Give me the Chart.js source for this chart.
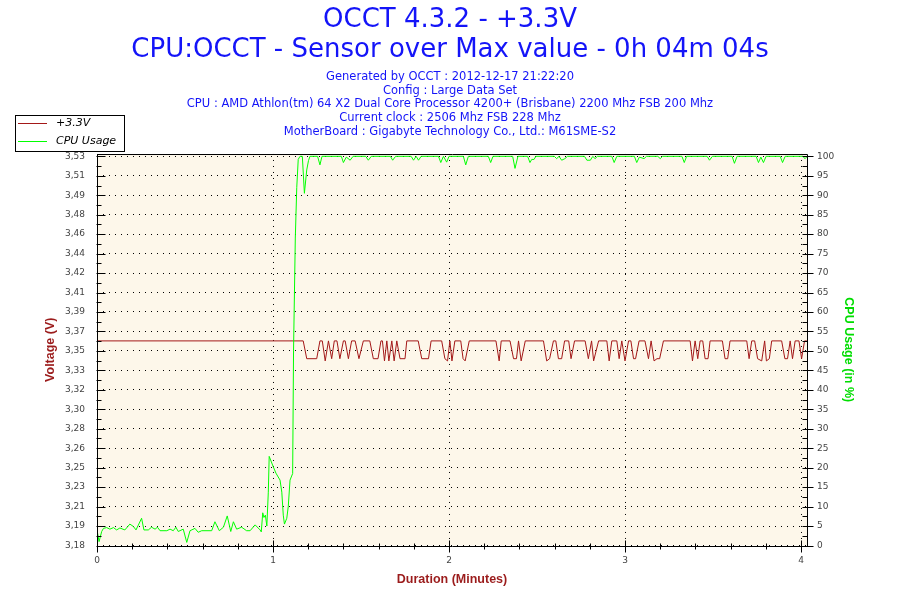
<!DOCTYPE html>
<html>
<head>
<meta charset="utf-8">
<script src="https://cdn.jsdelivr.net/npm/chart.js@4.4.0/dist/chart.umd.min.js"></script>
<style>
  html, body { margin: 0; padding: 0; background: #fff; }
  #wrap { width: 900px; height: 600px; }
</style>
</head>
<body>
<div id="wrap"><canvas id="chart" width="900" height="600"></canvas></div>
<script>
// text
const titleLines = ['OCCT 4.3.2 - +3.3V', 'CPU:OCCT - Sensor over Max value - 0h 04m 04s'];
const infoLines = [
  'Generated by OCCT : 2012-12-17 21:22:20',
  'Config : Large Data Set',
  'CPU : AMD Athlon(tm) 64 X2 Dual Core Processor 4200+ (Brisbane) 2200 Mhz FSB 200 Mhz',
  'Current clock : 2506 Mhz FSB 228 Mhz',
  'MotherBoard : Gigabyte Technology Co., Ltd.: M61SME-S2'
];
const seriesNames = ['+3.3V', 'CPU Usage'];

// +3.3V readings (time in seconds, value in volts)
const voltSeconds = [
  0, 70.3, 71.5, 74.9, 76.0, 76.8, 77.8, 78.9, 80.0, 80.9, 81.8, 82.8, 84.0, 84.6, 85.7, 86.8,
  88.0, 89.3, 90.8, 93.0, 94.2, 95.8, 96.8, 97.3, 98.0, 98.8, 99.5, 100.5, 101.3, 102.2, 103.3, 105.0,
  105.6, 109.5, 110.7, 113.0, 113.9, 117.5, 118.6, 119.5, 120.3, 121.0, 122.0, 124.0, 124.8, 125.5, 126.9, 136.0,
  137.1, 137.8, 140.8, 142.0, 143.0, 143.7, 144.6, 146.0, 152.2, 153.3, 154.3, 155.6, 156.4, 157.3, 158.4, 159.4,
  160.8, 161.6, 162.8, 166.4, 167.5, 168.6, 169.3, 171.0, 173.8, 174.6, 175.5, 177.2, 178.0, 178.9, 180.0, 181.2,
  182.0, 182.9, 183.6, 184.8, 186.8, 188.0, 188.9, 189.9, 190.9, 191.8, 193.1, 202.2, 203.0, 203.9, 204.8, 205.6,
  206.5, 207.3, 208.3, 209.0, 213.2, 214.1, 215.0, 215.8, 221.5, 222.3, 223.2, 224.2, 225.2, 226.6, 227.6, 228.2,
  229.2, 230.0, 233.4, 234.5, 235.4, 236.3, 237.1, 238.0, 239.3, 240.2, 241.2, 242.0
];
const voltValues = [
  3.364, 3.364, 3.348, 3.348, 3.364, 3.364, 3.346, 3.364, 3.348, 3.364, 3.364, 3.348, 3.364, 3.364, 3.348, 3.364,
  3.364, 3.348, 3.364, 3.364, 3.348, 3.348, 3.364, 3.364, 3.346, 3.364, 3.346, 3.364, 3.346, 3.364, 3.348, 3.348,
  3.364, 3.364, 3.348, 3.348, 3.364, 3.364, 3.348, 3.346, 3.364, 3.346, 3.364, 3.364, 3.348, 3.346, 3.364, 3.364,
  3.346, 3.364, 3.364, 3.348, 3.348, 3.364, 3.346, 3.364, 3.364, 3.346, 3.348, 3.364, 3.364, 3.348, 3.348, 3.364,
  3.364, 3.348, 3.364, 3.364, 3.348, 3.364, 3.346, 3.364, 3.364, 3.346, 3.364, 3.364, 3.348, 3.364, 3.346, 3.364,
  3.364, 3.348, 3.348, 3.364, 3.364, 3.348, 3.364, 3.346, 3.348, 3.348, 3.364, 3.364, 3.346, 3.364, 3.348, 3.364,
  3.364, 3.348, 3.348, 3.364, 3.364, 3.348, 3.348, 3.364, 3.364, 3.348, 3.364, 3.364, 3.348, 3.346, 3.364, 3.346,
  3.348, 3.364, 3.364, 3.348, 3.348, 3.364, 3.348, 3.364, 3.364, 3.348, 3.364, 3.364
];

// CPU usage readings (time in seconds, value in %)
const cpuSeconds = [
  0, 0.7, 1.6, 2.2, 3.3, 4.4, 5.6, 6.7, 7.8, 9.5, 11.2, 12.4, 13.3, 15.2, 16.0, 17.5,
  18.6, 19.8, 20.6, 21.5, 23.8, 24.9, 26.0, 26.9, 27.7, 29.4, 30.6, 31.7, 33.4, 34.5, 35.7, 39.1,
  40.2, 41.7, 43.1, 44.4, 45.6, 46.5, 47.6, 49.3, 51.0, 52.2, 53.9, 55.6, 56.0, 56.5, 56.9, 57.4,
  57.9, 58.4, 58.7, 60.1, 61.0, 62.4, 63.0, 63.5, 63.9, 64.7, 65.2, 65.8, 66.7, 67.0, 67.6, 68.1,
  68.6, 69.2, 70.0, 70.7, 71.5, 72.1, 72.6,
  75.2, 76.0, 76.7, 83.3, 84.0, 85.0, 86.3, 87.3, 91.6, 92.5, 93.5, 100.0, 100.8, 101.8,
  107.1, 107.9, 108.8, 109.6, 110.5, 116.4, 117.2, 118.1, 119.2, 120.0, 124.9, 125.7, 126.6,
  133.4, 134.2, 135.0, 141.7, 142.5, 143.5, 146.8, 147.6, 148.2, 149.0, 149.6,
  155.9, 156.7, 157.5, 158.4, 159.5, 160.4, 166.2, 167.0, 168.2, 169.0, 169.8, 170.6,
  175.5, 176.3, 177.2, 183.2, 184.0, 184.9, 186.5, 187.3, 191.2, 192.0, 192.8,
  199.4, 200.2, 201.0, 208.0, 208.8, 209.8, 216.5, 217.3, 218.2,
  224.7, 225.5, 226.3, 227.2, 228.1, 232.9, 233.7, 234.6, 240.6, 241.4, 242.0
];
const cpuValues = [
  4.0, 1.0, 3.6, 4.4, 4.6, 4.2, 4.6, 4.0, 4.5, 4.0, 5.5, 4.9, 4.0, 7.0, 4.0, 4.0,
  4.7, 4.2, 4.7, 3.8, 3.8, 4.2, 3.8, 4.7, 3.6, 4.2, 0.8, 3.8, 4.4, 3.4, 3.8, 3.8,
  6.1, 3.8, 4.7, 7.6, 3.6, 6.1, 4.2, 4.7, 3.8, 3.8, 5.3, 4.0, 3.5, 8.4, 7.2, 7.8,
  5.0, 13.7, 22.9, 20.2, 18.6, 16.8, 13.7, 7.8, 5.5, 7.0, 10.0, 16.8, 18.5, 50.0, 79.0, 92.0,
  99.2, 100, 100, 90.5, 96.5, 98.9, 100,
  100, 97.8, 100, 100, 98.4, 99.8, 99.0, 100, 100, 99.0, 100, 100, 99.0, 100,
  100, 99.0, 100, 99.0, 100, 100, 98.4, 100, 98.5, 100, 100, 97.8, 100,
  100, 98.4, 100, 100, 96.9, 100, 100, 98.4, 99.2, 99.2, 100,
  100, 99.4, 100, 99.0, 99.4, 100, 100, 99.0, 99.0, 100, 99.4, 100,
  100, 98.4, 100, 100, 98.4, 99.8, 99.4, 100, 100, 99.4, 100,
  100, 98.4, 100, 100, 99.0, 100, 100, 98.2, 100,
  100, 98.4, 99.8, 98.4, 100, 100, 98.4, 100, 100, 99.4, 99.9
];

// axes
const minuteTicks = [0, 1, 2, 3, 4];
const cpuTicks = [0, 5, 10, 15, 20, 25, 30, 35, 40, 45, 50, 55, 60, 65, 70, 75, 80, 85, 90, 95, 100];
const voltTickLabels = ['3,18', '3,19', '3,21', '3,23', '3,25', '3,26', '3,28', '3,30', '3,32', '3,33', '3,35',
  '3,37', '3,39', '3,41', '3,42', '3,44', '3,46', '3,48', '3,49', '3,51', '3,53'];

const VOLT_MIN = 3.18;     // voltage at 0 %
const VOLT_SPAN = 0.35;    // voltage range covered by 0..100 %
const CPU_TOP = 100.6;     // plot frame sits a little above 100 %
const X_MAX = 4.034;       // minutes
const MINOR_MINUTES = 0.2;

const FONT = 'DejaVu Sans';
const TICK_COLOR = '#444';
const DARK_RED = '#9b1c1c';
const TITLE_BLUE = '#1414f8';

const toPoints = (secs, vals) => secs.map((s, i) => ({ x: s / 60, y: vals[i] }));

// cream plot area, frame with in/out tick marks and the boxed legend
const occtFrame = {
  id: 'occtFrame',
  beforeDraw(chart) {
    const { ctx, chartArea: a } = chart;
    ctx.save();
    ctx.fillStyle = '#fdf7ea';
    ctx.fillRect(a.left, a.top, a.right - a.left, a.bottom - a.top);
    ctx.restore();
  },
  afterDraw(chart) {
    const { ctx, chartArea: a } = chart;
    const xs = chart.scales.x, yr = chart.scales.yCpu;
    const px = v => Math.round(v) + 0.5;
    const L = px(a.left), R = px(a.right), T = px(a.top), B = px(a.bottom);

    ctx.save();
    ctx.strokeStyle = '#000';
    ctx.lineWidth = 1;
    ctx.beginPath();
    ctx.rect(L, T, R - L, B - T);
    for (let k = 0; k * MINOR_MINUTES <= X_MAX; k++) {
      const x = px(xs.getPixelForValue(k * MINOR_MINUTES));
      const len = k % 5 === 0 ? 6 : 3;
      ctx.moveTo(x, B - len);
      ctx.lineTo(x, B + len);
    }
    for (let k = 0; k <= 40; k++) {
      const y = px(yr.getPixelForValue(k * 2.5));
      const major = k % 2 === 0;
      ctx.moveTo(L - 1, y);
      ctx.lineTo(L + (major ? 8 : 4), y);
      ctx.moveTo(R - 5, y);
      ctx.lineTo(R + (major ? 6 : 0), y);
    }
    ctx.stroke();

    // legend
    const bx = 15.5, by = 115.5, bw = 109, bh = 36;
    ctx.fillStyle = '#fff';
    ctx.fillRect(bx, by, bw, bh);
    ctx.strokeStyle = '#000';
    ctx.strokeRect(bx, by, bw, bh);
    ctx.font = 'italic 11px "' + FONT + '"';
    ctx.textBaseline = 'middle';
    ctx.textAlign = 'left';
    chart.data.datasets.forEach((ds, i) => {
      const cy = Math.round(by + 7.8 + i * 17.7) + 0.5;
      ctx.strokeStyle = ds.borderColor;
      ctx.beginPath();
      ctx.moveTo(18, cy);
      ctx.lineTo(47, cy);
      ctx.stroke();
      ctx.fillStyle = '#000';
      ctx.fillText(ds.label, 56, cy);
    });
    ctx.restore();
  }
};

new Chart(document.getElementById('chart').getContext('2d'), {
  type: 'line',
  data: {
    datasets: [
      {
        label: seriesNames[0],
        data: toPoints(voltSeconds, voltValues),
        yAxisID: 'yVolt',
        borderColor: '#a31818',
        borderWidth: 1,
        pointRadius: 0,
        tension: 0,
        order: 1
      },
      {
        label: seriesNames[1],
        data: toPoints(cpuSeconds, cpuValues),
        yAxisID: 'yCpu',
        borderColor: '#00ff00',
        borderWidth: 1,
        pointRadius: 0,
        tension: 0,
        order: 0
      }
    ]
  },
  options: {
    responsive: false,
    animation: false,
    events: [],
    layout: { padding: 0 },
    plugins: {
      legend: { display: false },
      tooltip: { enabled: false },
      title: {
        display: true,
        text: titleLines,
        color: TITLE_BLUE,
        font: { family: FONT, size: 26, weight: 'normal', lineHeight: 1.18 },
        padding: { top: 4.5, bottom: 0 }
      },
      subtitle: {
        display: true,
        text: infoLines,
        color: TITLE_BLUE,
        font: { family: FONT, size: 11.5, weight: 'normal', lineHeight: 1.196 },
        padding: { top: 4.2, bottom: 15.15 }
      }
    },
    scales: {
      x: {
        type: 'linear',
        min: 0,
        max: X_MAX,
        afterBuildTicks: s => { s.ticks = minuteTicks.map(v => ({ value: v })); },
        afterFit: s => { s.height = 54.5; },
        grid: { color: '#000', lineWidth: 1, drawTicks: false },
        border: { display: false, dash: [1, 5] },
        ticks: {
          color: TICK_COLOR, font: { family: FONT, size: 9 }, padding: 10,
          maxRotation: 0, autoSkip: false, callback: v => String(v)
        },
        title: {
          display: true, text: 'Duration (Minutes)', color: DARK_RED,
          font: { family: 'Liberation Sans', size: 12.5, weight: 'bold' },
          padding: { top: 0, bottom: 12.5 }
        }
      },
      yVolt: {
        type: 'linear',
        position: 'left',
        min: VOLT_MIN,
        max: VOLT_MIN + VOLT_SPAN * CPU_TOP / 100,
        afterBuildTicks: s => { s.ticks = cpuTicks.map(p => ({ value: VOLT_MIN + VOLT_SPAN * p / 100 })); },
        afterFit: s => { s.width = 97; },
        grid: { color: '#000', lineWidth: 1, drawTicks: false },
        border: { display: false, dash: [1, 5] },
        ticks: {
          color: TICK_COLOR, font: { family: FONT, size: 9 }, padding: 12,
          autoSkip: false, callback: (v, i) => voltTickLabels[i]
        },
        title: {
          display: true, text: 'Voltage (V)', color: DARK_RED,
          font: { family: 'Liberation Sans', size: 12.5, weight: 'bold' },
          padding: { top: 43.5, bottom: 0 }
        }
      },
      yCpu: {
        type: 'linear',
        position: 'right',
        min: 0,
        max: CPU_TOP,
        afterBuildTicks: s => { s.ticks = cpuTicks.map(v => ({ value: v })); },
        afterFit: s => { s.width = 93; },
        grid: { drawOnChartArea: false, drawTicks: false },
        border: { display: false },
        ticks: {
          color: TICK_COLOR, font: { family: FONT, size: 9 }, padding: 10,
          autoSkip: false
        },
        title: {
          display: true, text: 'CPU Usage (in %)', color: '#00dd00',
          font: { family: 'Liberation Sans', size: 12.5, weight: 'bold' },
          padding: { top: 44.5, bottom: 0 }
        }
      }
    }
  },
  plugins: [occtFrame]
});
</script>
</body>
</html>
